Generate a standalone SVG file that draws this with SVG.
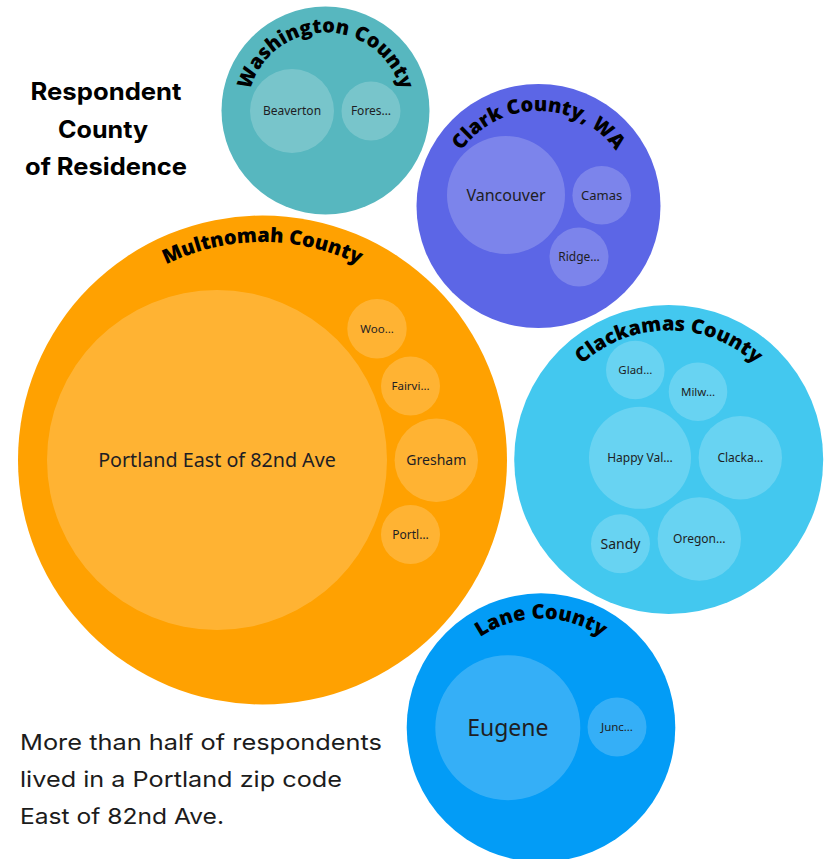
<svg xmlns="http://www.w3.org/2000/svg" width="832" height="859" viewBox="0 0 832 859">
<style>
.inner{fill:#ffffff;fill-opacity:0.2}
.lbl{font-family:"Noto Sans","Open Sans",sans-serif;fill:#1e1e24;text-anchor:middle}
.arc{font-family:"Open Sans","Lato",sans-serif;font-weight:800;font-size:20px;fill:#000}
.title{font-family:Inter,"Open Sans",sans-serif;font-weight:700;font-size:24px;fill:#000;text-anchor:middle}
.note{font-family:Inter,"Open Sans",sans-serif;font-weight:400;font-size:22px;fill:#1c1c1c}
</style>
<defs>
<path id="arcMult" d="M 44.5 460 A 218 218 0 0 1 480.5 460"/>
<path id="arcWash" d="M 247.5 110.5 A 78 78 0 0 1 403.5 110.5"/>
<path id="arcClark" d="M 443.5 206 A 95 95 0 0 1 633.5 206"/>
<path id="arcClack" d="M 539.7 459.5 A 129 129 0 0 1 797.7 459.5"/>
<path id="arcLane" d="M 432 727.6 A 109 109 0 0 1 650 727.6"/>
</defs>
<rect width="832" height="859" fill="#ffffff"/>

<g id="title">
<text class="title" x="106" y="100" textLength="151" lengthAdjust="spacingAndGlyphs">Respondent</text>
<text class="title" x="103" y="138" textLength="90" lengthAdjust="spacingAndGlyphs">County</text>
<text class="title" x="106" y="175" textLength="162" lengthAdjust="spacingAndGlyphs">of Residence</text>
</g>

<g id="washington-county">
<circle cx="325.5" cy="110.5" r="104" fill="#57B7BF"/>
<text class="arc"><textPath href="#arcWash" startOffset="50%" text-anchor="middle">Washington County</textPath></text>
<g id="beaverton"><circle class="inner" cx="292" cy="111" r="42"/><text class="lbl" x="292" y="111" dy="0.35em" font-size="12">Beaverton</text></g>
<g id="forest-grove"><circle class="inner" cx="371" cy="111" r="29.5"/><text class="lbl" x="371" y="111" dy="0.35em" font-size="12">Fores…</text></g>
</g>

<g id="clark-county">
<circle cx="538.5" cy="206" r="122" fill="#5C66E6"/>
<text class="arc"><textPath href="#arcClark" startOffset="50%" text-anchor="middle">Clark County, WA</textPath></text>
<g id="vancouver"><circle class="inner" cx="506" cy="195" r="59"/><text class="lbl" x="506" y="195" dy="0.35em" font-size="16">Vancouver</text></g>
<g id="camas"><circle class="inner" cx="601.7" cy="195.3" r="29.3"/><text class="lbl" x="601.7" y="195.3" dy="0.35em" font-size="13">Camas</text></g>
<g id="ridgefield"><circle class="inner" cx="579" cy="257" r="29.5"/><text class="lbl" x="579" y="257" dy="0.35em" font-size="12">Ridge…</text></g>
</g>

<g id="multnomah-county">
<circle cx="262.5" cy="460" r="244.5" fill="#FFA101"/>
<text class="arc"><textPath href="#arcMult" startOffset="50%" text-anchor="middle">Multnomah County</textPath></text>
<g id="portland-east"><circle class="inner" cx="217" cy="460" r="170"/><text class="lbl" x="217" y="460" dy="0.35em" font-size="19.7">Portland East of 82nd Ave</text></g>
<g id="wood-village"><circle class="inner" cx="377" cy="328.7" r="29.7"/><text class="lbl" x="377" y="328.7" dy="0.35em" font-size="11.5">Woo…</text></g>
<g id="fairview"><circle class="inner" cx="410.5" cy="386" r="29.5"/><text class="lbl" x="410.5" y="386" dy="0.35em" font-size="11.5">Fairvi…</text></g>
<g id="gresham"><circle class="inner" cx="436.3" cy="460.3" r="41.7"/><text class="lbl" x="436.3" y="460.3" dy="0.35em" font-size="14">Gresham</text></g>
<g id="portland-other"><circle class="inner" cx="410.5" cy="534.5" r="29.5"/><text class="lbl" x="410.5" y="534.5" dy="0.35em" font-size="12">Portl…</text></g>
</g>

<g id="clackamas-county">
<circle cx="668.7" cy="459.5" r="154.5" fill="#43C8EF"/>
<text class="arc"><textPath href="#arcClack" startOffset="50%" text-anchor="middle">Clackamas County</textPath></text>
<g id="gladstone"><circle class="inner" cx="635.3" cy="370" r="29.3"/><text class="lbl" x="635.3" y="370" dy="0.35em" font-size="11.5">Glad…</text></g>
<g id="milwaukie"><circle class="inner" cx="698" cy="391.7" r="29.3"/><text class="lbl" x="698" y="391.7" dy="0.35em" font-size="11.5">Milw…</text></g>
<g id="happy-valley"><circle class="inner" cx="640" cy="457.8" r="51"/><text class="lbl" x="640" y="457.8" dy="0.35em" font-size="12">Happy Val…</text></g>
<g id="clackamas"><circle class="inner" cx="740.3" cy="457.7" r="41.7"/><text class="lbl" x="740.3" y="457.7" dy="0.35em" font-size="12">Clacka…</text></g>
<g id="sandy"><circle class="inner" cx="620.5" cy="543.8" r="29.5"/><text class="lbl" x="620.5" y="543.8" dy="0.35em" font-size="14">Sandy</text></g>
<g id="oregon-city"><circle class="inner" cx="699.3" cy="539" r="41.7"/><text class="lbl" x="699.3" y="539" dy="0.35em" font-size="12">Oregon…</text></g>
</g>

<g id="lane-county">
<circle cx="541" cy="727.6" r="134.3" fill="#039CF6"/>
<text class="arc"><textPath href="#arcLane" startOffset="50%" text-anchor="middle">Lane County</textPath></text>
<g id="eugene"><circle class="inner" cx="507.8" cy="727.7" r="72.5"/><text class="lbl" x="507.8" y="727.7" dy="0.35em" font-size="23">Eugene</text></g>
<g id="junction-city"><circle class="inner" cx="617" cy="727" r="29.5"/><text class="lbl" x="617" y="727" dy="0.35em" font-size="11.5">Junc…</text></g>
</g>

<g id="note">
<text class="note" x="20" y="750" textLength="362" lengthAdjust="spacingAndGlyphs">More than half of respondents</text>
<text class="note" x="20" y="787" textLength="322" lengthAdjust="spacingAndGlyphs">lived in a Portland zip code</text>
<text class="note" x="20" y="824" textLength="204" lengthAdjust="spacingAndGlyphs">East of 82nd Ave.</text>
</g>
</svg>
